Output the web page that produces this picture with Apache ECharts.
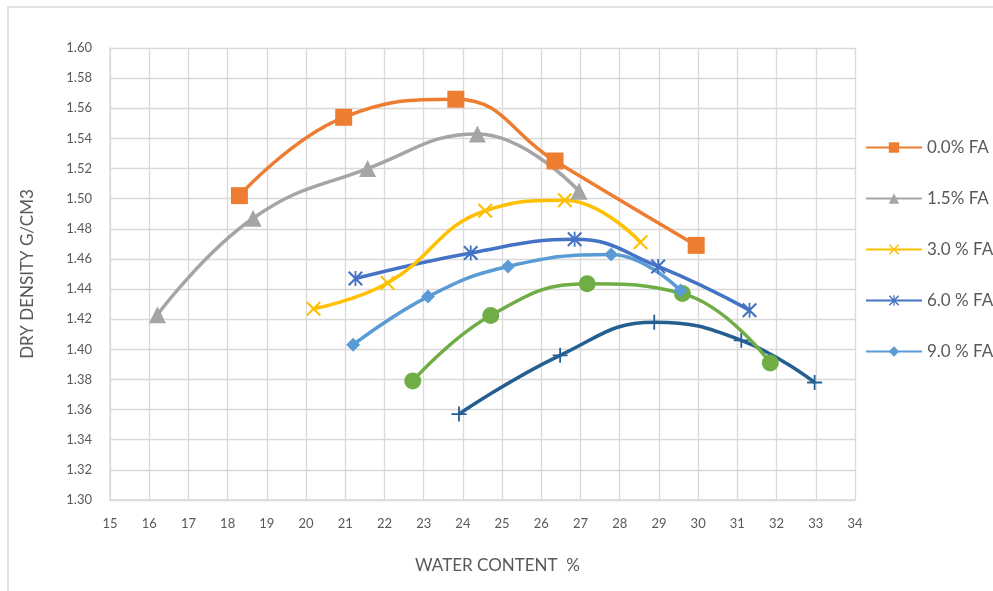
<!DOCTYPE html>
<html>
<head>
<meta charset="utf-8">
<script src="https://cdn.jsdelivr.net/npm/echarts@6/dist/echarts.min.js"></script>
<style>html,body{margin:0;padding:0;background:#fff}#c{width:993px;height:591px}</style>
</head>
<body>
<div id="c"></div>
<script>
// ---- data ----
var seriesNames = ['0.0% FA', '1.5% FA', '3.0 % FA', '6.0 % FA', '9.0 % FA', '12.0 % FA', '15.0 % FA'];
var fa00 = [[18.3, 1.502], [20.96, 1.554], [23.82, 1.566], [26.35, 1.525], [29.95, 1.469]];
var fa15 = [[16.21, 1.423], [18.65, 1.487], [21.57, 1.520], [24.37, 1.543], [26.96, 1.505]];
var fa30 = [[20.19, 1.427], [22.08, 1.444], [24.57, 1.492], [26.6, 1.499], [28.53, 1.471]];
var fa60 = [[21.26, 1.447], [24.2, 1.464], [26.85, 1.473], [28.98, 1.455], [31.31, 1.426]];
var fa90 = [[21.2, 1.403], [23.11, 1.435], [25.15, 1.455], [27.78, 1.463], [29.55, 1.439]];
var fa120 = [[22.72, 1.379], [24.71, 1.4225], [27.17, 1.4435], [29.6, 1.437], [31.84, 1.391]];
var fa150 = [[23.9, 1.357], [26.48, 1.396], [28.88, 1.418], [31.1, 1.406], [32.97, 1.378]];
var xTicks = {min: 15, max: 34, step: 1};
var yTicks = {min: 1.30, max: 1.60, step: 0.02};
var legendNames = seriesNames.slice(0, 5);

// ---- styling ----
var colors = ['#ED7D31', '#A5A5A5', '#FFC000', '#4472C4', '#5B9BD5', '#70AD47', '#255E91'];
var symX = 'path://M0,2L2,0L20,18L18,20ZM18,0L20,2L2,20L0,18Z';
var symStar = 'path://M0,2L2,0L20,18L18,20ZM18,0L20,2L2,20L0,18ZM8.8,0L11.2,0L11.2,20L8.8,20Z';
var symPlus = 'path://M8.8,0H11.2V8.8H20V11.2H11.2V20H8.8V11.2H0V8.8H8.8Z';
var symbols = ['rect', 'triangle', symX, symStar, 'diamond', 'circle', symPlus];
var sizes = [17, 17, 15, 15, 14, 17, 15];
var datasets = [fa00, fa15, fa30, fa60, fa90, fa120, fa150];

var series = datasets.map(function (d, i) {
  return {
    name: seriesNames[i],
    type: 'line',
    data: d,
    smooth: 0.45,
    symbol: symbols[i],
    symbolSize: sizes[i],
    showAllSymbol: true,
    z: 10 - i,
    itemStyle: {color: colors[i], borderWidth: 0},
    lineStyle: {color: colors[i], width: 3.5},
    emphasis: {disabled: true}
  };
});

var font = 'Lato, "Open Sans", sans-serif';
var chart = echarts.init(document.getElementById('c'), null, {renderer: 'canvas'});
chart.setOption({
  animation: false,
  backgroundColor: '#ffffff',
  grid: {left: 110, right: 138, top: 48, bottom: 91, containLabel: false},
  xAxis: {
    type: 'value', min: xTicks.min, max: xTicks.max, interval: xTicks.step,
    axisLine: {show: true, lineStyle: {color: '#d9d9d9', width: 1.5}},
    axisTick: {show: false},
    axisLabel: {color: '#595959', fontSize: 13, fontFamily: font, margin: 17},
    splitLine: {show: true, lineStyle: {color: '#d9d9d9', width: 1.3}}
  },
  yAxis: {
    type: 'value', min: yTicks.min, max: yTicks.max, interval: yTicks.step,
    name: 'DRY DENSITY G/CM3', nameLocation: 'middle', nameGap: 74, nameRotate: 90,
    nameTextStyle: {color: '#595959', fontSize: 17, fontFamily: font},
    axisLine: {show: true, lineStyle: {color: '#d9d9d9', width: 1.5}},
    axisTick: {show: false},
    axisLabel: {color: '#595959', fontSize: 13, fontFamily: font, margin: 18,
      formatter: function (v) { return v.toFixed(2); }},
    splitLine: {show: true, lineStyle: {color: '#d9d9d9', width: 1.3}}
  },
  legend: {
    data: legendNames,
    orient: 'vertical',
    left: 860, top: 134,
    itemWidth: 56, itemHeight: 13, itemGap: 34,
    textStyle: {color: '#595959', fontSize: 17, fontFamily: font}
  },
  graphic: [
    {type: 'rect', shape: {x: 8, y: 7, width: 1000, height: 600}, silent: true, z: -10,
     style: {fill: 'none', stroke: '#d9d9d9', lineWidth: 1.5}},
    {type: 'text', left: 415, top: 557,
     style: {text: 'WATER CONTENT  %', fill: '#595959', fontSize: 17, fontFamily: font}}
  ],
  series: series
});
</script>
</body>
</html>
